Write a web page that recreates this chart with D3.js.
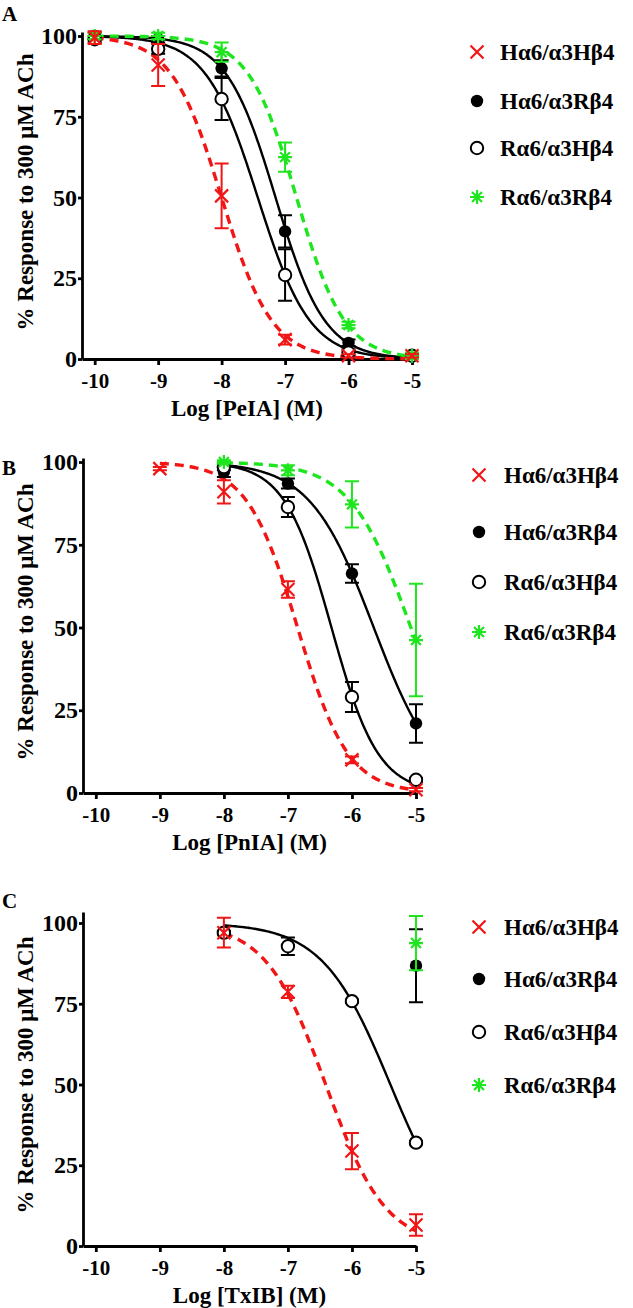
<!DOCTYPE html>
<html><head><meta charset="utf-8">
<script src="https://cdn.jsdelivr.net/npm/d3@7"></script>
<style>
body{margin:0;background:#fff}
svg{display:block}
text{font-family:"Liberation Serif","Times New Roman",Times,serif;font-weight:bold;fill:#000}
</style>
</head><body>
<svg id="chart" width="633" height="1308"></svg>
<script>
// ---------- data ----------
const seriesNames = ["Hα6/α3Hβ4", "Hα6/α3Rβ4", "Rα6/α3Hβ4", "Rα6/α3Rβ4"];
const panelLetters = ["A", "B", "C"];
const toxins = ["PeIA", "PnIA", "TxIB"];
const xTicks = [-10, -9, -8, -7, -6, -5];
const xTickLabels = ["-10", "-9", "-8", "-7", "-6", "-5"];
const yTicks = [0, 25, 50, 75, 100];
const yTickLabels = ["0", "25", "50", "75", "100"];

// Panel A: PeIA
const aX = [-10, -9, -8, -7, -6, -5];
const aHH = [99.5, 91, 50.5, 6, 1, 1];
const aHHerr = [2, 6.5, 10, 1.5, 0.5, 0.5];
const aHR = [100, 99, 90, 39.5, 5, 1];
const aHRerr = [1, 1, 2.5, 5, 1, 0.5];
const aRH = [99, 96, 80.5, 26, 2, 1];
const aRHerr = [1, 1.5, 6.5, 8, 1, 0.5];
const aRR = [100, 100, 95, 62.5, 10.5, 1];
const aRRerr = [1, 1, 3, 4.5, 1, 1];
const aLogIC50 = [-8.0, -7.15, -7.43, -6.82];
const aHill = [1.1, 1.12, 1.06, 1.15];

// Panel B: PnIA
const bXHH = [-9, -8, -7, -6, -5];
const bHH = [98, 91, 61.5, 10, 1];
const bHHerr = [0.5, 3.5, 2.5, 1, 0.5];
const bX = [-8, -7, -6, -5];
const bHR = [97, 93.5, 66.3, 21];
const bHRerr = [1.5, 1.5, 2.8, 5.8];
const bRH = [98.5, 86.4, 29, 4];
const bRHerr = [1, 3, 4.5, 0.5];
const bRR = [100, 97.5, 87.2, 46.2];
const bRRerr = [0.5, 1.5, 7, 17];
const bLogIC50 = [-6.85, -5.66, -6.32, -5.08];
const bHill = [1.1, 0.87, 1.19, 0.92];

// Panel C: TxIB
const cX = [-8, -7, -6, -5];
const cHH = [97, 78.7, 29.4, 6.5];
const cHHerr = [4.6, 1.9, 5.6, 3.3];
const cXsingle = [-5];
const cHR = [86.8];
const cHRerr = [11.3];
const cRH = [97, 92.8, 75.8, 32];
const cRHerr = [0.5, 2.7, 0.5, 0.5];
const cRR = [93.8];
const cRRerr = [8.4];
const cLogIC50 = [-6.41, null, -5.4, null];
const cHill = [0.93, null, 0.82, null];

const panelsData = [
  {x: [aX, aX, aX, aX], y: [aHH, aHR, aRH, aRR], e: [aHHerr, aHRerr, aRHerr, aRRerr], ic: aLogIC50, h: aHill},
  {x: [bXHH, bX, bX, bX], y: [bHH, bHR, bRH, bRR], e: [bHHerr, bHRerr, bRHerr, bRRerr], ic: bLogIC50, h: bHill},
  {x: [cX, cXsingle, cX, cXsingle], y: [cHH, cHR, cRH, cRR], e: [cHHerr, cHRerr, cRHerr, cRRerr], ic: cLogIC50, h: cHill}
];

// ---------- layout & style ----------
const layouts = [
  {xr: [82, 412], y0: 359, y100: 36, yTop: 32, letter: [2, 21], legMark: 477, legText: 500, legRows: [52, 101, 148, 197], yTitle: [25, 192]},
  {xr: [83, 416], y0: 793, y100: 462, yTop: 458, letter: [2, 475], legMark: 479, legText: 504, legRows: [475, 532, 582, 632], yTitle: [25, 622]},
  {xr: [83, 416], y0: 1246, y100: 923, yTop: 912, letter: [2, 908], legMark: 479, legText: 504, legRows: [927, 979, 1032, 1085], yTitle: [25, 1075]}
];
const RED = "#f21515", GREEN = "#1ee61e";
const styles = [
  {color: RED, dash: "9,6", width: 3.4, marker: "cross"},
  {color: "#000", dash: null, width: 2.4, marker: "filled"},
  {color: "#000", dash: null, width: 2.4, marker: "open"},
  {color: GREEN, dash: "9,6", width: 3.4, marker: "star"}
];
const drawOrder = [1, 2, 3, 0];

const svg = d3.select("#chart");
const hill = (x, ic, n) => 100 / (1 + Math.pow(10, n * (x - ic)));

function marker(g, type, cx, cy, color) {
  if (type === "cross") {
    const s = 6.5;
    g.append("path").attr("d", `M${cx - s},${cy - s}L${cx + s},${cy + s}M${cx - s},${cy + s}L${cx + s},${cy - s}`)
      .attr("stroke", color).attr("stroke-width", 2.2).attr("fill", "none");
  } else if (type === "filled") {
    g.append("circle").attr("cx", cx).attr("cy", cy).attr("r", 6.2).attr("fill", "#000");
  } else if (type === "open") {
    g.append("circle").attr("cx", cx).attr("cy", cy).attr("r", 6.2).attr("fill", "#fff")
      .attr("stroke", "#000").attr("stroke-width", 2);
  } else {
    const s = 7, d = s * Math.SQRT1_2;
    g.append("path").attr("d", `M${cx - s},${cy}L${cx + s},${cy}M${cx},${cy - s}L${cx},${cy + s}M${cx - d},${cy - d}L${cx + d},${cy + d}M${cx - d},${cy + d}L${cx + d},${cy - d}`)
      .attr("stroke", color).attr("stroke-width", 2.2).attr("fill", "none");
  }
}

panelsData.forEach((pd, pi) => {
  const L = layouts[pi];
  const g = svg.append("g");
  const x = d3.scaleLinear().domain([-10.2, -5]).range(L.xr);
  const topVal = (L.y0 - L.yTop) / (L.y0 - L.y100) * 100;
  const y = d3.scaleLinear().domain([0, topVal]).range([L.y0, L.yTop]);

  // axes
  const xAxis = g.append("g").attr("transform", `translate(0,${L.y0})`)
    .call(d3.axisBottom(x).tickValues(xTicks).tickFormat((d, i) => xTickLabels[i])
      .tickSize(6).tickSizeOuter(0).tickPadding(8));
  xAxis.selectAll("text").style("font-size", "21px").attr("dy", "0.72em");
  const yAxis = g.append("g").attr("transform", `translate(${L.xr[0]},0)`)
    .call(d3.axisLeft(y).tickValues(yTicks).tickFormat((d, i) => yTickLabels[i])
      .tickSize(4).tickSizeOuter(0).tickPadding(1));
  yAxis.selectAll("text").style("font-size", "24px");
  [xAxis, yAxis].forEach(a => {
    a.selectAll("path,line").attr("stroke", "#000").attr("stroke-width", 2.8);
    a.attr("font-family", null).attr("font-size", null);
  });

  // titles
  g.append("text").attr("x", (L.xr[0] + L.xr[1]) / 2).attr("y", L.y0 + 57)
    .attr("text-anchor", "middle").style("font-size", "23px").text(`Log [${toxins[pi]}] (M)`);
  g.append("text").attr("transform", `translate(${L.yTitle[0]},${L.yTitle[1]}) rotate(-90)`)
    .attr("text-anchor", "middle").attr("dy", "0.35em").style("font-size", "23px").text("% Response to 300 μM ACh");
  g.append("text").attr("x", L.letter[0]).attr("y", L.letter[1]).style("font-size", "21px").text(panelLetters[pi]);

  // curves
  const line = d3.line().x(d => x(d[0])).y(d => y(d[1]));
  drawOrder.forEach(si => {
    if (pd.ic[si] == null) return;
    const xs = pd.x[si];
    const x0 = d3.min(xs), x1 = d3.max(xs);
    const pts = d3.range(x0, x1 + 1e-9, 0.02).map(v => [v, hill(v, pd.ic[si], pd.h[si])]);
    const st = styles[si];
    g.append("path").attr("d", line(pts)).attr("fill", "none").attr("stroke", st.color)
      .attr("stroke-width", st.width).attr("stroke-dasharray", st.dash);
  });

  // error bars + markers
  drawOrder.forEach(si => {
    const st = styles[si];
    const sg = g.append("g");
    pd.x[si].forEach((xv, i) => {
      const cx = x(xv), v = pd.y[si][i], e = pd.e[si][i];
      const yt = y(v + e), yb = y(v - e);
      sg.append("path").attr("d", `M${cx},${yt}L${cx},${yb}M${cx - 7},${yt}L${cx + 7},${yt}M${cx - 7},${yb}L${cx + 7},${yb}`)
        .attr("stroke", st.color).attr("stroke-width", 2).attr("fill", "none");
      marker(sg, st.marker, cx, y(v), st.color);
    });
  });

  // legend
  seriesNames.forEach((name, si) => {
    const ry = L.legRows[si];
    marker(g, styles[si].marker, L.legMark, ry, styles[si].color);
    g.append("text").attr("x", L.legText).attr("y", ry).attr("dy", "0.35em")
      .style("font-size", "23px").text(name);
  });
});
</script>
</body></html>
